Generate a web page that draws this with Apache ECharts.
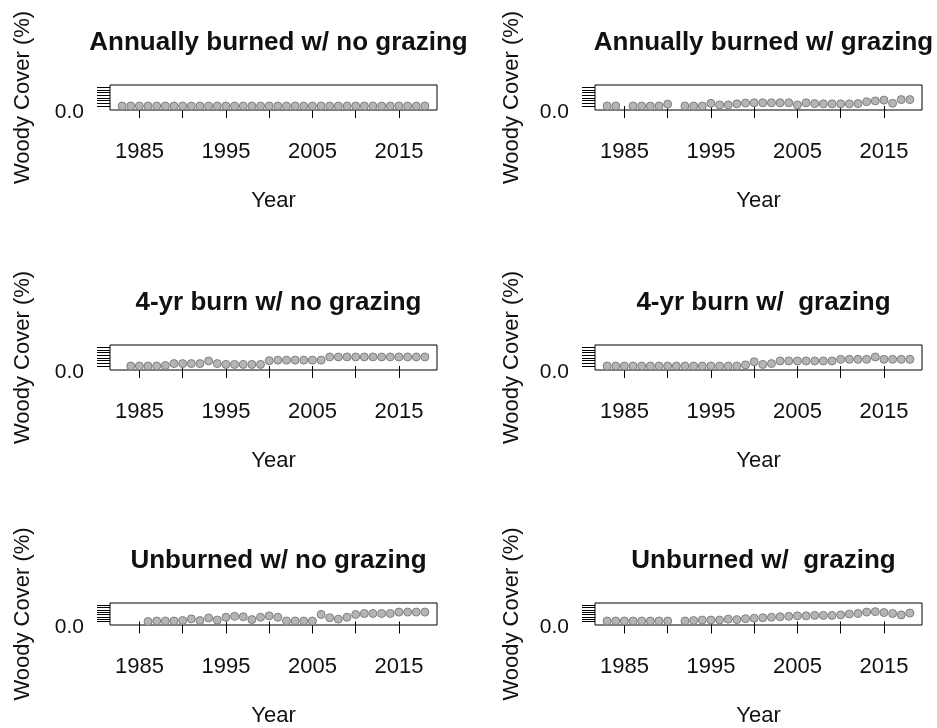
<!DOCTYPE html>
<html>
<head>
<meta charset="utf-8">
<title>Woody Cover</title>
<script src="https://cdn.jsdelivr.net/npm/echarts@6/dist/echarts.min.js"></script>
</head>
<body style="margin:0;background:#fff">
<div id="main" style="width:937px;height:728px;"></div>
<script type="text/javascript">

// years sampled (null = no observation that year)
var years = [1983,1984,1985,1986,1987,1988,1989,1990,1991,1992,1993,1994,1995,1996,1997,1998,1999,2000,
             2001,2002,2003,2004,2005,2006,2007,2008,2009,2010,2011,2012,2013,2014,2015,2016,2017,2018];

var annualNoGrazing = [0,0,0,0,0,0,0,0,0,0,0,0,0,0,0,0,0,0,
                       0,0,0,0,0,0,0,0,0,0,0,0,0,0,0,0,0,0];
var annualGrazing   = [0,0,null,0,0,0,0,0.35,null,0,0,0,0.5,0.2,0.2,0.4,0.55,0.6,
                       0.6,0.6,0.6,0.6,0.2,0.6,0.45,0.4,0.4,0.4,0.4,0.45,0.8,0.95,1.1,0.5,1.2,1.2];
var fourYrNoGrazing = [null,0,0,0,0,0.1,0.45,0.45,0.45,0.45,0.95,0.45,0.3,0.3,0.3,0.3,0.3,1.0,
                       1.1,1.1,1.1,1.1,1.1,1.1,1.7,1.7,1.7,1.7,1.7,1.7,1.7,1.7,1.7,1.7,1.7,1.7];
var fourYrGrazing   = [0,0,0,0,0,0,0,0,0,0,0,0,0,0,0,0,0.2,0.8,
                       0.3,0.45,0.95,0.95,0.95,0.95,0.95,0.95,0.95,1.25,1.25,1.25,1.25,1.7,1.25,1.25,1.25,1.25];
var unburnedNoGrazing = [null,null,null,0,0.1,0.1,0.1,0.2,0.55,0.2,0.75,0.3,0.9,1.1,1.0,0.4,0.9,1.2,
                         0.9,0.1,0.1,0.1,0.1,1.5,0.8,0.5,0.9,1.5,1.7,1.7,1.7,1.7,2.0,2.0,2.0,2.0];
var unburnedGrazing = [0.1,0.1,0.1,0.1,0.1,0.1,0.1,0.1,null,0.1,0.2,0.3,0.3,0.3,0.5,0.4,0.6,0.7,
                       0.8,0.9,1.0,1.1,1.2,1.2,1.3,1.3,1.3,1.4,1.6,1.7,2.0,2.1,1.9,1.7,1.4,1.8];

var panelTitles = ['Annually burned w/ no grazing', 'Annually burned w/ grazing',
                   '4-yr burn w/ no grazing', '4-yr burn w/  grazing',
                   'Unburned w/ no grazing', 'Unburned w/  grazing'];
var panelData = [annualNoGrazing, annualGrazing, fourYrNoGrazing, fourYrGrazing,
                 unburnedNoGrazing, unburnedGrazing];

var xTicks  = [1985,1990,1995,2000,2005,2010,2015];
var xLabels = [1985,1995,2005,2015];
var yTicks  = [0,0.5,1,1.5,2,2.5,3,3.5];
var yLabels = [0];

var myChart = echarts.init(document.getElementById('main'));

var colLeft = [110, 595];
var rowTop  = [85, 345, 603];
var boxW = 327, boxH = 25;
var font = 'Liberation Sans, Arial, sans-serif';

var grids = [], xAxes = [], yAxes = [], series = [], titles = [];

for (var p = 0; p < 6; p++) {
    var c = p % 2, r = Math.floor(p / 2);
    grids.push({
        left: colLeft[c], top: rowTop[r], width: boxW, height: boxH,
        show: true, borderColor: '#000', borderWidth: 1, backgroundColor: 'transparent'
    });
    xAxes.push({
        gridIndex: p, type: 'value', min: 1981.6, max: 2019.4,
        name: 'Year', nameLocation: 'middle', nameGap: 80,
        nameTextStyle: { fontFamily: font, fontSize: 22, color: '#111' },
        axisLine: { show: false },
        splitLine: { show: false },
        axisTick: { show: true, inside: false, length: 12, customValues: xTicks,
                    lineStyle: { color: '#000', width: 1 } },
        axisLabel: { customValues: xLabels, margin: 31, fontFamily: font, fontSize: 22, color: '#111',
                     formatter: function (v) { return String(v); } }
    });
    yAxes.push({
        gridIndex: p, type: 'value', min: -0.75, max: 3.94,
        name: 'Woody Cover (%)', nameLocation: 'middle', nameGap: c === 0 ? 76 : 72,
        nameTextStyle: { fontFamily: font, fontSize: 22, color: '#111' },
        axisLine: { show: false },
        splitLine: { show: false },
        axisTick: { show: true, inside: false, length: 13, customValues: yTicks,
                    lineStyle: { color: '#000', width: 1 } },
        axisLabel: { customValues: yLabels, margin: 26, fontFamily: font, fontSize: 21, color: '#111',
                     verticalAlign: 'top', lineHeight: 12,
                     formatter: function (v) { return v.toFixed(1); } }
    });
    var pts = [];
    for (var i = 0; i < years.length; i++) {
        if (panelData[p][i] !== null) pts.push([years[i], panelData[p][i]]);
    }
    series.push({
        type: 'scatter', xAxisIndex: p, yAxisIndex: p, data: pts,
        symbol: 'circle', symbolSize: 8,
        itemStyle: { color: '#b5b5b5', borderColor: '#808080', borderWidth: 1, opacity: 1 }
    });
    titles.push({
        text: panelTitles[p], left: colLeft[c] + boxW / 2, top: rowTop[r] - 60,
        textAlign: 'center',
        textStyle: { fontFamily: font, fontSize: 26, fontWeight: 'bold', color: '#111' }
    });
}

var option = {
    animation: false,
    backgroundColor: '#fff',
    title: titles,
    grid: grids,
    xAxis: xAxes,
    yAxis: yAxes,
    series: series
};
myChart.setOption(option);

</script>
</body>
</html>
